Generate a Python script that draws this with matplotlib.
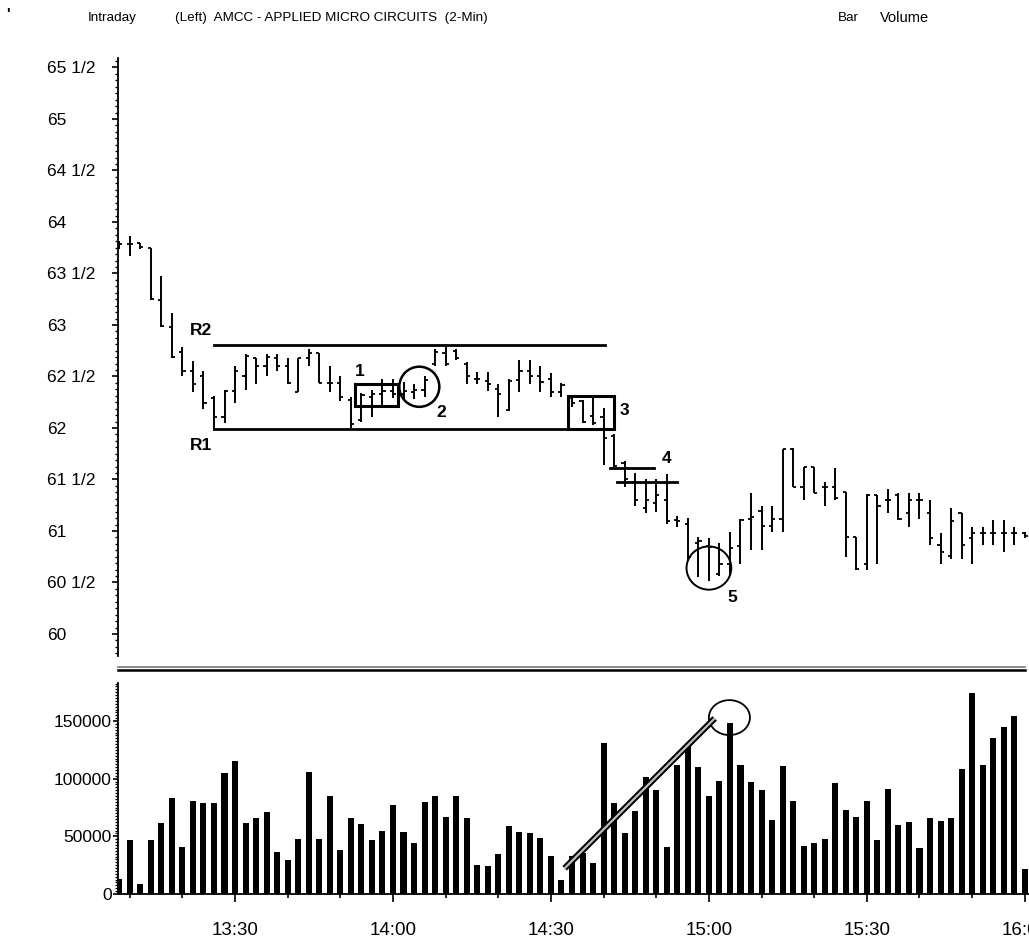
import matplotlib
matplotlib.use("Agg")
import matplotlib.pyplot as plt
from matplotlib.patches import Rectangle, Ellipse
from matplotlib.lines import Line2D
from matplotlib.ticker import MultipleLocator, FixedLocator
import numpy as np

plt.rcParams['font.family'] = ['Liberation Sans', 'DejaVu Sans']

# ---------------- data ----------------
# bar times: minutes after 13:00 (2-minute bars, 13:08 ... 16:00)
bar_minutes = list(range(8, 181, 2))

opens = [63.79, 63.79, 63.80, 63.75, 63.24, 62.98, 62.74, 62.55, 62.50, 62.29,
         62.11, 62.36, 62.50, 62.68, 62.60, 62.68, 62.60, 62.35, 62.68, 62.73,
         62.44, 62.44, 62.27, 62.08, 62.30, 62.33, 62.36, 62.33, 62.35, 62.37,
         62.62, 62.73, 62.75, 62.62, 62.48, 62.46, 62.38, 62.17, 62.47, 62.55,
         62.50, 62.48, 62.35, 62.29, 62.26, 62.12, 62.11, 61.92, 61.66, 61.48,
         61.22, 61.27, 61.30, 61.11, 61.07, 60.88, 60.85, 60.58, 60.68, 60.85,
         61.12, 61.19, 61.05, 61.12, 61.80, 61.43, 61.62, 61.43, 61.43, 61.38,
         60.94, 60.68, 61.35, 61.30, 61.35, 61.17, 61.30, 61.17, 60.86, 60.76,
         61.17, 60.93, 60.98, 60.98, 60.98, 60.98, 60.98]
highs = [63.82, 63.86, 63.80, 63.75, 63.48, 63.12, 62.79, 62.65, 62.55, 62.31,
         62.37, 62.60, 62.72, 62.68, 62.72, 62.72, 62.68, 62.68, 62.77, 62.73,
         62.60, 62.50, 62.30, 62.34, 62.37, 62.48, 62.48, 62.45, 62.43, 62.50,
         62.77, 62.80, 62.77, 62.64, 62.54, 62.54, 62.43, 62.48, 62.66, 62.66,
         62.60, 62.53, 62.44, 62.31, 62.27, 62.29, 62.19, 61.94, 61.68, 61.56,
         61.50, 61.50, 61.55, 61.15, 61.13, 60.94, 60.93, 60.88, 60.99, 61.12,
         61.37, 61.24, 61.24, 61.80, 61.81, 61.62, 61.62, 61.48, 61.61, 61.38,
         60.94, 61.36, 61.35, 61.41, 61.37, 61.37, 61.37, 61.30, 60.98, 61.22,
         61.17, 61.04, 61.04, 61.11, 61.11, 61.04, 60.99]
lows = [63.74, 63.67, 63.74, 63.24, 62.98, 62.68, 62.50, 62.35, 62.18, 61.99,
        62.05, 62.24, 62.37, 62.43, 62.50, 62.55, 62.43, 62.35, 62.60, 62.44,
        62.35, 62.26, 62.00, 62.06, 62.11, 62.22, 62.29, 62.28, 62.28, 62.30,
        62.60, 62.60, 62.66, 62.43, 62.43, 62.36, 62.11, 62.16, 62.35, 62.43,
        62.35, 62.30, 62.30, 62.20, 62.05, 62.03, 61.64, 61.62, 61.43, 61.24,
        61.17, 61.18, 61.07, 61.04, 60.72, 60.55, 60.51, 60.56, 60.57, 60.68,
        60.82, 60.82, 60.99, 60.99, 61.43, 61.30, 61.37, 61.24, 61.30, 60.75,
        60.62, 60.62, 60.68, 61.17, 61.11, 61.04, 61.12, 60.86, 60.68, 60.73,
        60.73, 60.68, 60.86, 60.86, 60.80, 60.86, 60.93]
closes = [63.79, 63.79, 63.76, 63.25, 62.99, 62.69, 62.55, 62.43, 62.24, 62.11,
          62.36, 62.55, 62.70, 62.60, 62.69, 62.60, 62.44, 62.68, 62.73, 62.44,
          62.44, 62.30, 62.04, 62.32, 62.33, 62.36, 62.33, 62.36, 62.37, 62.47,
          62.74, 62.62, 62.68, 62.50, 62.48, 62.43, 62.33, 62.46, 62.55, 62.50,
          62.45, 62.35, 62.42, 62.24, 62.06, 62.05, 61.90, 61.63, 61.50, 61.30,
          61.30, 61.35, 61.10, 61.10, 60.75, 60.90, 60.84, 60.68, 60.83, 61.11,
          61.14, 61.05, 61.12, 61.80, 61.43, 61.62, 61.37, 61.43, 61.32, 60.94,
          60.63, 61.35, 61.24, 61.30, 61.12, 61.30, 61.30, 60.93, 60.80, 61.10,
          60.86, 60.98, 60.98, 60.98, 60.98, 60.98, 60.95]
volumes = [13000, 47000, 9000, 47000, 61500, 83500, 40500, 80500, 79000, 79000,
           105000, 115000, 62000, 66000, 71500, 36500, 29500, 47500, 106000, 47500,
           85000, 38500, 65500, 60500, 47000, 55000, 77000, 54000, 44500, 79500,
           85000, 67000, 85000, 65500, 25000, 24500, 34500, 59000, 54000, 52500,
           49000, 33000, 12500, 33000, 35500, 26500, 131000, 78500, 52500, 72000,
           101500, 90000, 41000, 112000, 128000, 110500, 85000, 98000, 148500, 112000,
           97000, 90000, 64500, 111000, 81000, 42000, 44500, 48000, 96500, 73000,
           66500, 81000, 47000, 91000, 60000, 62500, 40000, 66000, 63500, 66000,
           108500, 174000, 112000, 135500, 144500, 154000, 22000]

price_ticks = [60, 60.5, 61, 61.5, 62, 62.5, 63, 63.5, 64, 64.5, 65, 65.5]
price_labels = ["60", "60 1/2", "61", "61 1/2", "62", "62 1/2", "63", "63 1/2",
                "64", "64 1/2", "65", "65 1/2"]
vol_ticks = [0, 50000, 100000, 150000]
vol_labels = ["0", "50000", "100000", "150000"]
time_ticks = [30, 60, 90, 120, 150, 180]
time_labels = ["13:30", "14:00", "14:30", "15:00", "15:30", "16:00"]

# ---------------- figure ----------------
W, H = 1029, 943
fig = plt.figure(figsize=(W / 100, H / 100), dpi=100)
fig.patch.set_facecolor("white")

def fx(px):
    return px / W

def fy(py):
    return 1 - py / H

XL = (7.77, 180.8)
axp = fig.add_axes([fx(118), fy(656), fx(1029) - fx(118), fy(58) - fy(656)])
axv = fig.add_axes([fx(118), fy(894), fx(1029) - fx(118), fy(683) - fy(894)])

t = np.array(bar_minutes, dtype=float)
o, h, l, c = map(np.array, (opens, highs, lows, closes))
tl = 0.6
axp.vlines(t, l, h, color="black", lw=1.4)
axp.hlines(o, t - tl, t, color="black", lw=1.3)
axp.hlines(c, t, t + tl, color="black", lw=1.3)

axp.set_xlim(*XL)
axp.set_ylim(59.786, 65.592)
for s in ("top", "right", "bottom"):
    axp.spines[s].set_visible(False)
axp.spines["left"].set_linewidth(1.3)
axp.set_xticks([])
axp.yaxis.set_major_locator(FixedLocator(price_ticks))
axp.yaxis.set_minor_locator(MultipleLocator(1 / 16))
axp.set_yticklabels(price_labels, ha="left", fontsize=12.5)
axp.tick_params(axis="y", which="major", length=4.5, width=1.2, pad=46.6)
axp.tick_params(axis="y", which="minor", length=2.5, width=1.0)

# annotations on price panel
lw_a = 2.0
lab = dict(fontsize=12.5, fontweight="bold", ha="center", va="center")
axp.plot([26.0, 100.2], [62.81, 62.81], color="black", lw=lw_a)
axp.plot([26.0, 93.25], [61.99, 61.99], color="black", lw=lw_a)
axp.text(23.5, 62.95, "R2", **lab)
axp.text(23.5, 61.83, "R1", **lab)
axp.add_patch(Rectangle((52.7, 62.21), 8.3, 0.22, fill=False, ec="black", lw=2.2))
axp.text(53.6, 62.55, "1", **lab)
axp.add_patch(Ellipse((65.0, 62.40), 7.6, 0.39, fill=False, ec="black", lw=1.8))
axp.text(69.2, 62.15, "2", **lab)
axp.add_patch(Rectangle((93.25, 61.99), 8.75, 0.32, fill=False, ec="black", lw=2.2))
axp.text(104.0, 62.17, "3", **lab)
axp.plot([101.2, 109.5], [61.61, 61.61], color="black", lw=lw_a)
axp.plot([102.5, 113.9], [61.48, 61.48], color="black", lw=lw_a)
axp.text(112.0, 61.70, "4", **lab)
axp.add_patch(Ellipse((120.0, 60.64), 8.5, 0.42, fill=False, ec="black", lw=1.4))
axp.text(124.4, 60.35, "5", **lab)

# ---------------- volume panel ----------------
axv.bar(t, volumes, width=1.15, color="black", align="center")
axv.set_xlim(*XL)
axv.set_ylim(0, 183000)
for s in ("top", "right"):
    axv.spines[s].set_visible(False)
axv.spines["left"].set_linewidth(1.3)
axv.spines["bottom"].set_linewidth(1.3)
axv.yaxis.set_major_locator(FixedLocator(vol_ticks))
axv.yaxis.set_minor_locator(MultipleLocator(2500))
axv.set_yticklabels(vol_labels, fontsize=12.5)
axv.tick_params(axis="y", which="major", length=3.5, width=1.2, pad=1)
axv.tick_params(axis="y", which="minor", length=2.0, width=0.9)
axv.xaxis.set_major_locator(FixedLocator(time_ticks))
axv.xaxis.set_minor_locator(MultipleLocator(10))
axv.set_xticklabels(time_labels, fontsize=13.5)
axv.tick_params(axis="x", which="major", length=6, width=1.2, pad=14)
axv.tick_params(axis="x", which="minor", length=3, width=1.2)

# volume annotations
axv.plot([92.6, 121.1], [22300, 152300], color="black", lw=4.5, solid_capstyle="butt")
axv.plot([92.6, 121.1], [22300, 152300], color="#bdbdbd", lw=1.6, solid_capstyle="butt")
axv.add_patch(Ellipse((123.9, 153000), 7.8, 30300, fill=False, ec="black", lw=1.3,
                      clip_on=False))

# separator double line
fig.add_artist(Line2D([fx(118), fx(1025)], [fy(667), fy(667)], color="#777777", lw=1.2))
fig.add_artist(Line2D([fx(118), fx(1025)], [fy(670), fy(670)], color="black", lw=1.8))

# header texts
hdr = dict(fontsize=9.7, va="center", ha="left")
fig.text(fx(88), fy(18), "Intraday", **hdr)
fig.text(fx(175), fy(18), "(Left)  AMCC - APPLIED MICRO CIRCUITS  (2-Min)", **hdr)
fig.text(fx(838), fy(18), "Bar", **hdr)
fig.text(fx(880), fy(18), "Volume", fontsize=10.5, va="center", ha="left")
fig.text(fx(8), fy(14), "'", fontsize=11, fontweight="bold", va="center", ha="center")

fig.savefig("out.png", dpi=100, facecolor="white")
